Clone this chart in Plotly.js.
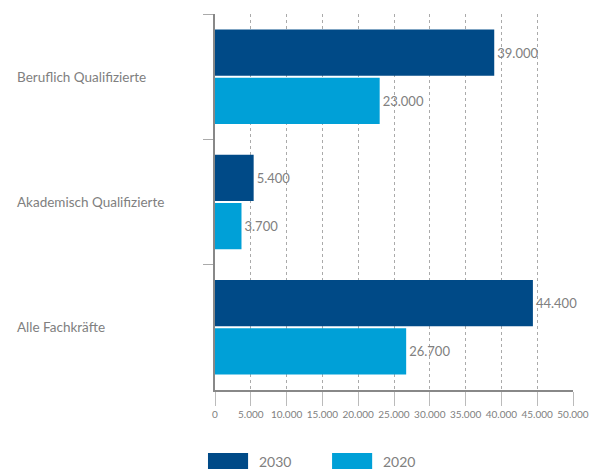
<!DOCTYPE html>
<html>
<head>
<meta charset="utf-8">
<script src="https://cdn.plot.ly/plotly-3.0.1.min.js"></script>
<style>html,body{margin:0;padding:0;background:#fff;}#chart{width:598px;height:470px;}</style>
</head>
<body>
<div id="chart"></div>
<script>
const categories = ['Beruflich Qualifizierte', 'Akademisch Qualifizierte', 'Alle Fachkräfte'];
const series2030 = [39000, 5400, 44400];
const series2020 = [23000, 3700, 26700];
const seriesNames = ['2030', '2020'];
const seriesColors = ['#004a87', '#00a0d7'];
const xTicks = [0, 5000, 10000, 15000, 20000, 25000, 30000, 35000, 40000, 45000, 50000];

const FONT = 'Lato, "Open Sans", sans-serif';
const textColor = '#808080';

function barTrace(name, values, color) {
  return {
    type: 'bar', orientation: 'h', name: name,
    y: categories, x: values,
    marker: {color: color, line: {width: 0}},
    texttemplate: '%{x:,d}', textposition: 'outside',
    textfont: {family: FONT, size: 13, color: textColor},
    cliponaxis: false, hoverinfo: 'skip'
  };
}

const data = [
  barTrace(seriesNames[0], series2030, seriesColors[0]),
  barTrace(seriesNames[1], series2020, seriesColors[1])
];

const annotations = categories.map(c => ({
  xref: 'paper', yref: 'y', x: -0.56, y: c, text: c,
  xanchor: 'left', yanchor: 'middle', showarrow: false,
  font: {family: FONT, size: 13.5, color: textColor}
}));

const shapes = [];
const legendX = [-0.0196, 0.327];
seriesNames.forEach((n, i) => {
  shapes.push({type: 'rect', xref: 'paper', yref: 'paper',
    x0: legendX[i], x1: legendX[i] + 0.112, y0: -0.1676, y1: -0.2101,
    fillcolor: seriesColors[i], line: {width: 0}});
  annotations.push({xref: 'paper', yref: 'paper', x: legendX[i] + 0.138, y: -0.189,
    text: n, xanchor: 'left', yanchor: 'middle', showarrow: false,
    font: {family: FONT, size: 14, color: textColor}});
});

const layout = {
  width: 598, height: 470,
  margin: {l: 215, r: 25, t: 14, b: 80},
  paper_bgcolor: '#fff', plot_bgcolor: '#fff',
  separators: ',.',
  showlegend: false,
  barmode: 'group', bargap: 0.23, bargroupgap: 0.04,
  xaxis: {
    range: [0, 50000], tickvals: xTicks, tickformat: ',d',
    showgrid: true, gridcolor: '#aaa', griddash: 'dot', gridwidth: 1,
    zeroline: false,
    showline: true, linecolor: '#888', linewidth: 2,
    ticks: 'outside', ticklen: 14, tickcolor: '#bbb', tickwidth: 1,
    tickfont: {family: FONT, size: 10, color: textColor},
    fixedrange: true
  },
  yaxis: {
    type: 'category', autorange: 'reversed',
    showticklabels: false, showgrid: false, zeroline: false,
    showline: true, linecolor: '#888', linewidth: 2,
    ticks: 'outside', tickson: 'boundaries', ticklen: 10, tickcolor: '#aaa', tickwidth: 1,
    fixedrange: true
  },
  annotations: annotations,
  shapes: shapes,
  font: {family: FONT, color: textColor}
};

Plotly.newPlot('chart', data, layout, {displayModeBar: false, staticPlot: true});
</script>
</body>
</html>
